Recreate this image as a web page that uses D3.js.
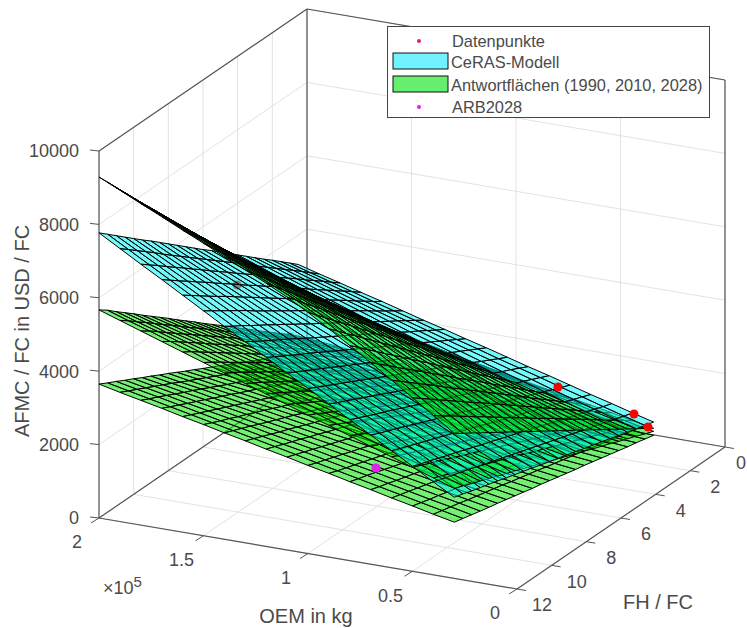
<!DOCTYPE html>
<html>
<head>
<meta charset="utf-8">
<script src="https://cdn.jsdelivr.net/npm/d3@7"></script>
<style>
  html, body { margin: 0; padding: 0; background: #fff; overflow: hidden; }
  text { font-family: "Liberation Sans", Arial, sans-serif; fill: #4a4a4a; }
</style>
</head>
<body>
<svg id="chart" width="747" height="628"></svg>
<script>
const meshOEM = [30000,40000,50000,60000,70000,80000,90000,100000,110000,120000,130000,140000,150000,160000,170000,180000,190000,200000];
const meshFH = [0.5,1,1.5,2,2.5,3,3.5,4,4.5,5,5.5,6,6.5,7,7.5,8,8.5,9,9.5,10,10.5,11,11.5,12];

// one row per FH / FC value, one column per OEM value
const surf1990 = [
[380,490,610,720,830,940,1050,1170,1280,1390,1500,1620,1730,1840,1950,2070,2180,2290],
[540,660,780,910,1030,1160,1280,1400,1520,1640,1760,1880,2000,2120,2240,2360,2480,2590],
[690,830,960,1100,1230,1370,1500,1640,1770,1890,2020,2150,2270,2400,2520,2650,2770,2900],
[850,990,1140,1290,1440,1580,1730,1870,2010,2150,2280,2410,2540,2670,2810,2940,3070,3200],
[1000,1160,1320,1480,1640,1800,1950,2110,2260,2400,2540,2670,2810,2950,3090,3230,3370,3510],
[1160,1330,1500,1670,1840,2010,2180,2340,2500,2650,2790,2940,3080,3230,3380,3520,3670,3810],
[1310,1500,1680,1860,2050,2230,2400,2580,2740,2900,3050,3200,3360,3510,3660,3810,3960,4120],
[1470,1660,1860,2050,2250,2440,2630,2810,2990,3150,3310,3470,3630,3790,3940,4100,4260,4420],
[1620,1830,2040,2250,2450,2650,2850,3050,3230,3400,3570,3730,3900,4060,4230,4390,4560,4720],
[1780,2000,2220,2440,2650,2870,3080,3280,3480,3650,3830,4000,4170,4340,4510,4690,4860,5030],
[1930,2170,2400,2630,2860,3080,3300,3520,3720,3900,4080,4260,4440,4620,4800,4980,5160,5330],
[2090,2330,2580,2820,3060,3290,3530,3750,3960,4160,4340,4530,4710,4900,5080,5270,5450,5640],
[2240,2500,2760,3010,3260,3510,3750,3990,4210,4410,4600,4790,4980,5180,5370,5560,5750,5940],
[2400,2670,2940,3200,3460,3720,3970,4220,4450,4660,4860,5060,5250,5450,5650,5850,6050,6250],
[2550,2830,3120,3390,3670,3940,4200,4460,4700,4910,5120,5320,5530,5730,5940,6140,6350,6550],
[2710,3000,3300,3580,3870,4150,4420,4690,4940,5160,5370,5580,5800,6010,6220,6430,6640,6860],
[2860,3170,3470,3770,4070,4360,4650,4930,5180,5410,5630,5850,6070,6290,6500,6720,6940,7160],
[3020,3340,3650,3960,4280,4580,4870,5160,5430,5660,5890,6110,6340,6560,6790,7010,7240,7460],
[3170,3500,3830,4160,4480,4790,5100,5400,5670,5910,6150,6380,6610,6840,7070,7310,7540,7770],
[3330,3670,4010,4350,4680,5000,5320,5630,5920,6170,6400,6640,6880,7120,7360,7600,7840,8070],
[3480,3840,4190,4540,4880,5220,5550,5870,6160,6420,6660,6910,7150,7400,7640,7890,8130,8380],
[3640,4010,4370,4730,5090,5430,5770,6100,6400,6670,6920,7170,7420,7680,7930,8180,8430,8680],
[3790,4170,4550,4920,5290,5650,6000,6340,6650,6920,7180,7440,7690,7950,8210,8470,8730,8990],
[3950,4340,4730,5110,5490,5860,6220,6570,6890,7170,7440,7700,7970,8230,8500,8760,9030,9290]
];
const surf2010 = [
[300,360,410,470,520,580,640,690,750,800,860,920,970,1030,1090,1140,1200,1250],
[390,460,520,580,640,700,760,830,890,950,1010,1070,1140,1200,1260,1320,1380,1450],
[490,550,620,690,760,830,890,960,1030,1100,1160,1230,1300,1370,1430,1500,1570,1640],
[580,650,730,800,870,950,1020,1100,1170,1240,1320,1390,1460,1540,1610,1680,1760,1830],
[670,750,830,910,990,1070,1150,1230,1310,1390,1470,1550,1630,1710,1790,1870,1940,2020],
[770,850,940,1020,1110,1190,1280,1360,1450,1530,1620,1710,1790,1880,1960,2050,2130,2220],
[860,950,1040,1130,1230,1320,1410,1500,1590,1680,1770,1860,1950,2050,2140,2230,2320,2410],
[950,1050,1150,1250,1340,1440,1540,1630,1730,1830,1920,2020,2120,2220,2310,2410,2510,2600],
[1050,1150,1250,1360,1460,1560,1670,1770,1870,1970,2080,2180,2280,2380,2490,2590,2690,2800],
[1140,1250,1360,1470,1580,1680,1790,1900,2010,2120,2230,2340,2440,2550,2660,2770,2880,2990],
[1230,1350,1460,1580,1690,1810,1920,2040,2150,2270,2380,2490,2610,2720,2840,2950,3070,3180],
[1330,1450,1570,1690,1810,1930,2050,2170,2290,2410,2530,2650,2770,2890,3010,3130,3250,3370],
[1420,1550,1670,1800,1930,2050,2180,2310,2430,2560,2680,2810,2940,3060,3190,3320,3440,3570],
[1520,1650,1780,1910,2040,2180,2310,2440,2570,2700,2840,2970,3100,3230,3360,3500,3630,3760],
[1610,1750,1890,2020,2160,2300,2440,2570,2710,2850,2990,3130,3260,3400,3540,3680,3820,3950],
[1700,1850,1990,2130,2280,2420,2560,2710,2850,3000,3140,3280,3430,3570,3710,3860,4000,4150],
[1800,1950,2100,2240,2390,2540,2690,2840,2990,3140,3290,3440,3590,3740,3890,4040,4190,4340],
[1890,2040,2200,2360,2510,2670,2820,2980,3130,3290,3440,3600,3750,3910,4060,4220,4380,4530],
[1980,2140,2310,2470,2630,2790,2950,3110,3270,3430,3600,3760,3920,4080,4240,4400,4560,4720],
[2080,2240,2410,2580,2740,2910,3080,3250,3410,3580,3750,3910,4080,4250,4420,4580,4750,4920],
[2170,2340,2520,2690,2860,3030,3210,3380,3550,3730,3900,4070,4240,4420,4590,4760,4940,5110],
[2260,2440,2620,2800,2980,3160,3340,3510,3690,3870,4050,4230,4410,4590,4770,4950,5120,5300],
[2360,2540,2730,2910,3100,3280,3460,3650,3830,4020,4200,4390,4570,4760,4940,5130,5310,5500],
[2450,2640,2830,3020,3210,3400,3590,3770,3960,4150,4340,4530,4720,4910,5100,5290,5480,5670]
];
const surf2028 = [
[190,220,260,290,320,360,390,430,460,490,530,560,590,630,660,700,730,760],
[250,290,320,360,400,440,470,510,550,590,630,660,700,740,780,810,850,890],
[310,350,390,430,470,510,560,600,640,680,720,760,810,850,890,930,970,1010],
[360,410,460,500,550,590,640,680,730,770,820,870,910,960,1000,1050,1090,1140],
[420,470,520,570,620,670,720,770,820,870,920,970,1020,1070,1120,1170,1220,1270],
[480,530,590,640,700,750,800,860,910,960,1020,1070,1120,1180,1230,1280,1340,1390],
[540,600,650,710,770,830,880,940,1000,1060,1110,1170,1230,1290,1340,1400,1460,1520],
[600,660,720,780,840,900,970,1030,1090,1150,1210,1270,1340,1400,1460,1520,1580,1640],
[660,720,790,850,920,980,1050,1110,1180,1240,1310,1370,1440,1510,1570,1640,1700,1770],
[710,780,850,920,990,1060,1130,1200,1270,1340,1410,1480,1550,1620,1690,1750,1820,1890],
[770,840,920,990,1070,1140,1210,1290,1360,1430,1510,1580,1650,1730,1800,1870,1950,2020],
[830,910,980,1060,1140,1220,1290,1370,1450,1530,1600,1680,1760,1830,1910,1990,2070,2140],
[890,970,1050,1130,1210,1290,1380,1460,1540,1620,1700,1780,1860,1940,2030,2110,2190,2270],
[950,1030,1120,1200,1290,1370,1460,1540,1630,1710,1800,1880,1970,2050,2140,2220,2310,2390],
[1000,1090,1180,1270,1360,1450,1540,1630,1720,1810,1900,1980,2070,2160,2250,2340,2430,2520],
[1060,1160,1250,1340,1440,1530,1620,1710,1810,1900,1990,2090,2180,2270,2370,2460,2550,2650],
[1120,1220,1310,1410,1510,1610,1700,1800,1900,1990,2090,2190,2290,2380,2480,2580,2670,2770],
[1180,1280,1380,1480,1580,1680,1790,1890,1990,2090,2190,2290,2390,2490,2590,2700,2800,2900],
[1240,1340,1450,1550,1660,1760,1870,1970,2080,2180,2290,2390,2500,2600,2710,2810,2920,3020],
[1290,1400,1510,1620,1730,1840,1950,2060,2170,2280,2380,2490,2600,2710,2820,2930,3040,3150],
[1350,1470,1580,1690,1800,1920,2030,2140,2260,2370,2480,2600,2710,2820,2930,3050,3160,3270],
[1410,1530,1640,1760,1880,2000,2110,2230,2350,2460,2580,2700,2810,2930,3050,3170,3280,3400],
[1470,1590,1710,1830,1950,2070,2190,2310,2440,2560,2680,2800,2920,3040,3160,3280,3400,3520],
[1530,1650,1780,1900,2030,2150,2280,2400,2530,2650,2780,2900,3030,3150,3280,3400,3520,3650]
];
const surfCeRAS = [
[550,700,860,1010,1170,1330,1480,1640,1800,1950,2110,2260,2420,2580,2730,2890,3040,3200],
[620,780,940,1110,1270,1440,1600,1760,1930,2090,2250,2420,2580,2740,2910,3070,3230,3400],
[690,860,1030,1200,1370,1550,1720,1890,2060,2230,2400,2570,2740,2910,3090,3260,3430,3600],
[760,940,1120,1300,1480,1660,1830,2010,2190,2370,2550,2730,2900,3080,3260,3440,3620,3800],
[830,1020,1210,1390,1580,1760,1950,2140,2320,2510,2690,2880,3070,3250,3440,3620,3810,3990],
[910,1100,1290,1490,1680,1870,2070,2260,2450,2650,2840,3030,3230,3420,3610,3810,4000,4190],
[980,1180,1380,1580,1780,1980,2180,2390,2590,2790,2990,3190,3390,3590,3790,3990,4190,4390],
[1050,1260,1470,1680,1880,2090,2300,2510,2720,2930,3130,3340,3550,3760,3970,4170,4380,4590],
[1120,1340,1550,1770,1990,2200,2420,2630,2850,3060,3280,3500,3710,3930,4140,4360,4570,4790],
[1200,1420,1640,1860,2090,2310,2530,2760,2980,3200,3430,3650,3870,4090,4320,4540,4760,4990],
[1270,1500,1730,1960,2190,2420,2650,2880,3110,3340,3570,3800,4030,4260,4500,4730,4960,5190],
[1340,1580,1820,2050,2290,2530,2770,3010,3240,3480,3720,3960,4200,4430,4670,4910,5150,5380],
[1410,1660,1900,2150,2390,2640,2880,3130,3370,3620,3870,4110,4360,4600,4850,5090,5340,5580],
[1480,1740,1990,2240,2500,2750,3000,3250,3510,3760,4010,4260,4520,4770,5020,5280,5530,5780],
[1560,1820,2080,2340,2600,2860,3120,3380,3640,3900,4160,4420,4680,4940,5200,5460,5720,5980],
[1630,1900,2160,2430,2700,2970,3230,3500,3770,4040,4300,4570,4840,5110,5380,5640,5910,6180],
[1700,1980,2250,2530,2800,3080,3350,3630,3900,4180,4450,4730,5000,5280,5550,5830,6100,6380],
[1770,2060,2340,2620,2900,3190,3470,3750,4030,4320,4600,4880,5160,5450,5730,6010,6290,6580],
[1850,2140,2430,2720,3010,3300,3590,3880,4170,4460,4750,5040,5330,5620,5910,6200,6480,6770],
[1920,2220,2510,2810,3110,3410,3700,4000,4300,4590,4890,5190,5490,5780,6080,6380,6680,6970],
[1990,2300,2600,2900,3210,3510,3820,4120,4430,4730,5040,5340,5650,5950,6260,6560,6870,7170],
[2060,2370,2690,3000,3310,3620,3940,4250,4560,4870,5180,5500,5810,6120,6430,6750,7060,7370],
[2140,2450,2770,3090,3410,3730,4050,4370,4690,5010,5330,5650,5970,6290,6610,6930,7250,7570],
[2210,2530,2860,3190,3520,3840,4170,4500,4820,5150,5480,5800,6130,6460,6790,7110,7440,7770]
];

const oemTicks = [0, 50000, 100000, 150000, 200000];
const oemTickLabels = ["0", "0.5", "1", "1.5", "2"];
const fhTicks = [0, 2, 4, 6, 8, 10, 12];
const afmcTicks = [0, 2000, 4000, 6000, 8000, 10000];

// red points, the first ones sit under the surfaces
const pointOEM = [158800, 150100, 134100, 113700, 48200, 71600, 36900, 32700];
const pointFH = [9, 7, 5, 4, 1, 1, 0.8, 0.5];
const pointAFMC = [5780, 3801, 2332, 1959, 264, 1264, 801, 390];
const buriedCount = 5;
const arbOEM = [100600];
const arbFH = [8];
const arbAFMC = [1035];

const legendLabels = ["Datenpunkte", "CeRAS-Modell", "Antwortflächen (1990, 2010, 2028)", "ARB2028"];

const svg = d3.select("#chart");

let oemScale = d3.scaleLinear().domain([0, 200000]).range([0, 1]);
let fhScale = d3.scaleLinear().domain([0, 12]).range([0, 1]);
let afmcScale = d3.scaleLinear().domain([0, 10000]).range([0, 1]);

// fixed matlab-like view, orthographic
function project(o, f, z) {
  let a = oemScale(o), b = fhScale(f), c = afmcScale(z);
  return [725 - 418 * a - 208 * b, 447 - 71 * a + 142 * b - 367 * c];
}
// height over a mean plane of the surfaces, grows towards the camera
function depth(o, f, z) {
  return afmcScale(z) - 0.45 * fhScale(f) - 0.35 * oemScale(o);
}

let line = d3.line();
let gridColor = "#e2e2e2";
let boxColor = "#555";

function seg(g, a, b, color, w) {
  g.append("path").attr("d", line([a, b])).attr("fill", "none").attr("stroke", color).attr("stroke-width", w);
}

let gridG = svg.append("g");
// floor
oemTicks.forEach(o => seg(gridG, project(o, 0, 0), project(o, 12, 0), gridColor, 1));
fhTicks.forEach(f => seg(gridG, project(0, f, 0), project(200000, f, 0), gridColor, 1));
// left wall
afmcTicks.forEach(z => seg(gridG, project(200000, 0, z), project(200000, 12, z), gridColor, 1));
fhTicks.forEach(f => seg(gridG, project(200000, f, 0), project(200000, f, 10000), gridColor, 1));
// back wall
afmcTicks.forEach(z => seg(gridG, project(0, 0, z), project(200000, 0, z), gridColor, 1));
oemTicks.forEach(o => seg(gridG, project(o, 0, 0), project(o, 0, 10000), gridColor, 1));

let boxG = svg.append("g");
[
  [[200000, 12, 0], [200000, 12, 10000]],
  [[200000, 0, 0], [200000, 0, 10000]],
  [[0, 0, 0], [0, 0, 10000]],
  [[200000, 12, 10000], [200000, 0, 10000]],
  [[200000, 0, 10000], [0, 0, 10000]],
  [[200000, 12, 0], [0, 12, 0]],
  [[0, 12, 0], [0, 0, 0]],
  [[200000, 12, 0], [200000, 0, 0]],
  [[200000, 0, 0], [0, 0, 0]]
].forEach(e => seg(boxG, project(...e[0]), project(...e[1]), boxColor, 1.2));

// ticks
oemTicks.forEach((o, i) => {
  let p = project(o, 12, 0);
  seg(boxG, p, [p[0] - 8, p[1] + 5], boxColor, 1);
  svg.append("text").attr("x", p[0] - 22).attr("y", p[1] + 24).attr("dy", "0.35em")
    .attr("text-anchor", "middle").attr("font-size", 18).text(oemTickLabels[i]);
});
fhTicks.forEach(f => {
  let p = project(0, f, 0);
  seg(boxG, p, [p[0] + 9, p[1] + 1.5], boxColor, 1);
  svg.append("text").attr("x", f == 0 ? p[0] + 16 : p[0] + 25).attr("y", p[1] + 16).attr("dy", "0.35em")
    .attr("text-anchor", "middle").attr("font-size", 18).text(f);
});
afmcTicks.forEach(z => {
  let p = project(200000, 12, z);
  seg(boxG, p, [p[0] - 9, p[1] - 1], boxColor, 1);
  svg.append("text").attr("x", 79).attr("y", p[1]).attr("dy", "0.35em")
    .attr("text-anchor", "end").attr("font-size", 18).text(z);
});

svg.append("text").attr("transform", "translate(29,331) rotate(-90)")
  .attr("text-anchor", "middle").attr("font-size", 20).text("AFMC / FC in USD / FC");
svg.append("text").attr("x", 306).attr("y", 623).attr("text-anchor", "middle").attr("font-size", 20).text("OEM in kg");
svg.append("text").attr("x", 658).attr("y", 609).attr("text-anchor", "middle").attr("font-size", 20).text("FH / FC");

let expo = svg.append("text").attr("x", 103).attr("y", 594).attr("font-size", 18);
expo.append("tspan").text("×10");
expo.append("tspan").attr("dy", -7).attr("font-size", 15).text("5");

// buried points first, they only show through the translucent surfaces
function drawPoints(g, os, fs, zs, color, r) {
  g.selectAll(null).data(os.map((o, i) => project(o, fs[i], zs[i]))).enter().append("circle")
    .attr("cx", d => d[0]).attr("cy", d => d[1]).attr("r", r).attr("fill", color);
}
drawPoints(svg.append("g"), pointOEM.slice(0, buriedCount), pointFH.slice(0, buriedCount), pointAFMC.slice(0, buriedCount), "#ff0000", 4.5);

// all surface cells, painted back to front
function cellsOf(table, color) {
  let cells = [];
  for (let r = 0; r < meshFH.length - 1; r++) {
    for (let c = 0; c < meshOEM.length - 1; c++) {
      let corners = [[c, r], [c + 1, r], [c + 1, r + 1], [c, r + 1]]
        .map(k => [meshOEM[k[0]], meshFH[k[1]], table[k[1]][k[0]]]);
      cells.push({
        color: color,
        pts: corners.map(k => project(...k)),
        depth: d3.mean(corners, k => depth(...k))
      });
    }
  }
  return cells;
}
let cells = [].concat(
  cellsOf(surf1990, "#00e400"),
  cellsOf(surf2010, "#00e400"),
  cellsOf(surf2028, "#00e400"),
  cellsOf(surfCeRAS, "#00f8f8")
).sort((a, b) => d3.ascending(a.depth, b.depth));

svg.append("g").selectAll("path").data(cells).enter().append("path")
  .attr("d", d => line(d.pts) + "Z")
  .attr("fill", d => d.color)
  .attr("fill-opacity", 0.54)
  .attr("stroke", "#000")
  .attr("stroke-width", 1);

let topG = svg.append("g");
drawPoints(topG, pointOEM.slice(buriedCount), pointFH.slice(buriedCount), pointAFMC.slice(buriedCount), "#ff0000", 4.5);
drawPoints(topG, arbOEM, arbFH, arbAFMC, "#e81ff0", 4.5);

// legend
let legend = svg.append("g");
legend.append("rect").attr("x", 387.5).attr("y", 26.5).attr("width", 322).attr("height", 91)
  .attr("fill", "#fff").attr("stroke", "#444").attr("stroke-width", 1);
let rowY = [41, 62, 85, 107];
legendLabels.forEach((t, i) => {
  legend.append("text").attr("x", i % 3 == 0 ? 452 : 451).attr("y", rowY[i]).attr("dy", "0.35em").attr("font-size", 16.4).text(t);
});
legend.append("circle").attr("cx", 419).attr("cy", rowY[0]).attr("r", 2).attr("fill", "#f0204a");
legend.append("circle").attr("cx", 419).attr("cy", rowY[3]).attr("r", 2).attr("fill", "#e020e8");
legend.append("rect").attr("x", 393).attr("y", 53).attr("width", 55).attr("height", 16).attr("fill", "#70f2ff").attr("stroke", "#111");
legend.append("rect").attr("x", 393).attr("y", 76).attr("width", 55).attr("height", 16).attr("fill", "#66ee6e").attr("stroke", "#111");
</script>
</body>
</html>
